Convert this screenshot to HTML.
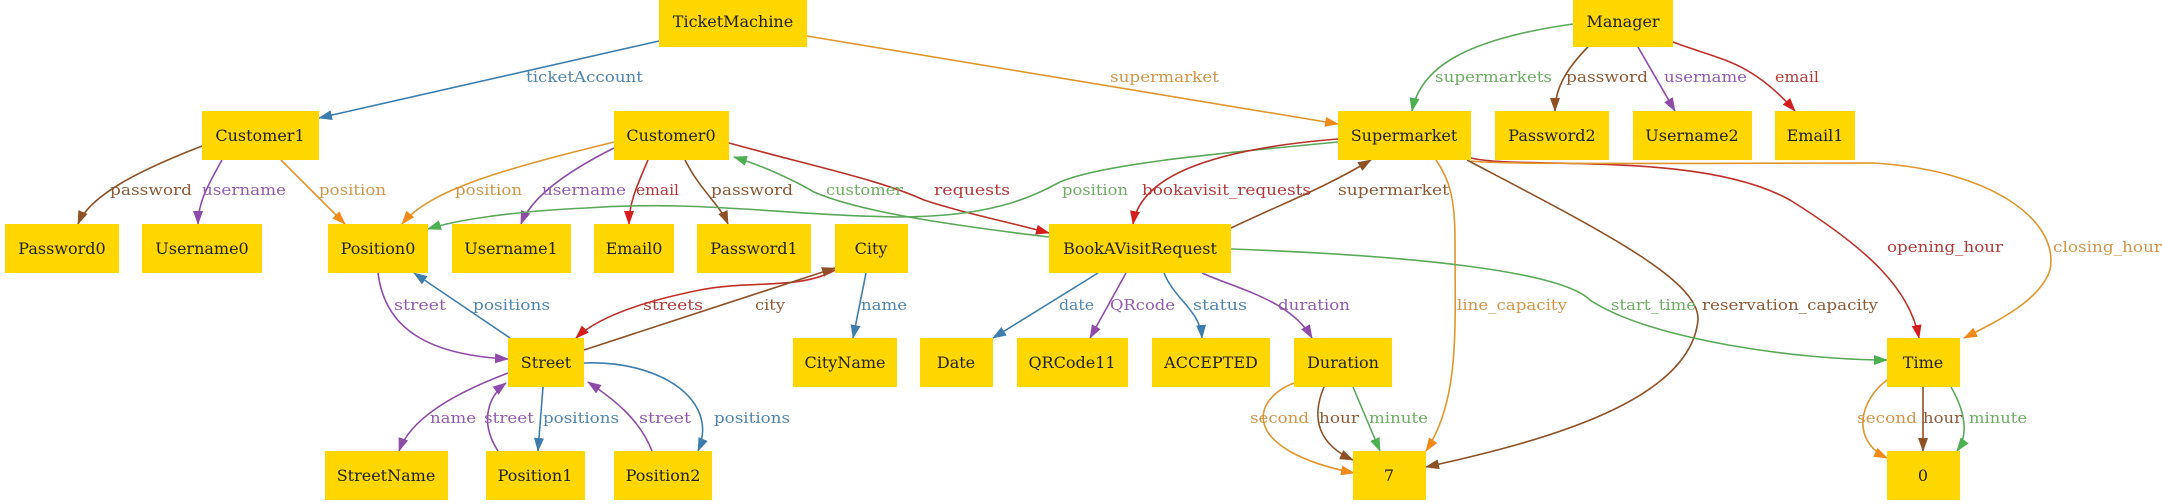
<!DOCTYPE html>
<html><head><meta charset="utf-8"><style>
html,body{margin:0;padding:0;background:#fff;width:2162px;height:504px;overflow:hidden}
svg{display:block}
.n{fill:#FFD700}
.t{font-family:"DejaVu Serif","Liberation Serif",serif;font-size:16px;fill:#222;text-anchor:middle}
.l{font-family:"DejaVu Serif","Liberation Serif",serif;font-size:15px}
path{fill:none;stroke-width:1.6}
</style></head><body>
<svg width="2162" height="504" viewBox="0 0 2162 504" xmlns="http://www.w3.org/2000/svg">
<defs>
<marker id="ab" markerWidth="14" markerHeight="10" refX="13" refY="5" orient="auto" markerUnits="userSpaceOnUse"><path d="M0,0 L14,5 L0,10z" style="fill:#3D7DAD;stroke:none"/></marker>
<marker id="ao" markerWidth="14" markerHeight="10" refX="13" refY="5" orient="auto" markerUnits="userSpaceOnUse"><path d="M0,0 L14,5 L0,10z" style="fill:#F08A1A;stroke:none"/></marker>
<marker id="abr" markerWidth="14" markerHeight="10" refX="13" refY="5" orient="auto" markerUnits="userSpaceOnUse"><path d="M0,0 L14,5 L0,10z" style="fill:#8E5126;stroke:none"/></marker>
<marker id="ap" markerWidth="14" markerHeight="10" refX="13" refY="5" orient="auto" markerUnits="userSpaceOnUse"><path d="M0,0 L14,5 L0,10z" style="fill:#8E4BA8;stroke:none"/></marker>
<marker id="ar" markerWidth="14" markerHeight="10" refX="13" refY="5" orient="auto" markerUnits="userSpaceOnUse"><path d="M0,0 L14,5 L0,10z" style="fill:#D41E1E;stroke:none"/></marker>
<marker id="ag" markerWidth="14" markerHeight="10" refX="13" refY="5" orient="auto" markerUnits="userSpaceOnUse"><path d="M0,0 L14,5 L0,10z" style="fill:#4CAF50;stroke:none"/></marker>
</defs>

<g>
<path d="M659,41 L319,118" stroke="#3D7DAD" marker-end="url(#ab)"/>
<path d="M807,36 L1338,124" stroke="#E0962E" marker-end="url(#ao)"/>
<path d="M202,146 C140,170 90,195 78,224" stroke="#8E5126" marker-end="url(#abr)"/>
<path d="M222,160 C205,190 198,205 198,224" stroke="#8E4BA8" marker-end="url(#ap)"/>
<path d="M281,160 L345,224" stroke="#E0962E" marker-end="url(#ao)"/>
<path d="M614,142 C500,170 430,190 402,224" stroke="#E0962E" marker-end="url(#ao)"/>
<path d="M614,148 C560,175 530,200 521,224" stroke="#8E4BA8" marker-end="url(#ap)"/>
<path d="M648,160 C635,190 629,205 629,224" stroke="#C0302A" marker-end="url(#ar)"/>
<path d="M685,160 C700,190 720,205 728,224" stroke="#8E5126" marker-end="url(#abr)"/>
<path d="M1049,237 C950,225 860,212 814,192 C790,178 760,165 734,157" stroke="#5AA85A" marker-end="url(#ag)"/>
<path d="M729,143 C820,168 880,180 924,200 C960,212 1000,220 1049,233" stroke="#B8302A" marker-end="url(#ar)"/>
<path d="M1338,142 C1200,155 1100,165 1060,182 C1030,198 990,217 897,217 C780,215 700,200 586,208 C500,212 450,222 428,229" stroke="#5AA85A" marker-end="url(#ag)"/>
<path d="M1338,139 C1200,150 1140,180 1133,224" stroke="#B8302A" marker-end="url(#ar)"/>
<path d="M1231,228 C1290,200 1320,190 1371,160" stroke="#8E5126" marker-end="url(#abr)"/>
<path d="M378,273 C385,330 430,355 508,359" stroke="#8E4BA8" marker-end="url(#ap)"/>
<path d="M510,338 L414,273" stroke="#3D7DAD" marker-end="url(#ab)"/>
<path d="M835,270 C800,290 750,280 700,290 C650,300 600,315 576,338" stroke="#C0302A" marker-end="url(#ar)"/>
<path d="M584,350 L835,268" stroke="#8E5126" marker-end="url(#abr)"/>
<path d="M866,273 L853,338" stroke="#3D7DAD" marker-end="url(#ab)"/>
<path d="M1098,273 L993,338" stroke="#3D7DAD" marker-end="url(#ab)"/>
<path d="M1126,273 L1090,338" stroke="#8E4BA8" marker-end="url(#ap)"/>
<path d="M1164,273 C1175,300 1200,310 1202,338" stroke="#3D7DAD" marker-end="url(#ab)"/>
<path d="M1202,273 C1240,290 1290,300 1312,338" stroke="#8E4BA8" marker-end="url(#ap)"/>
<path d="M508,373 C450,395 410,420 399,451" stroke="#8E4BA8" marker-end="url(#ap)"/>
<path d="M498,451 C478,420 490,395 506,383" stroke="#8E4BA8" marker-end="url(#ap)"/>
<path d="M543,387 L538,451" stroke="#3D7DAD" marker-end="url(#ab)"/>
<path d="M652,451 C640,420 615,400 588,382" stroke="#8E4BA8" marker-end="url(#ap)"/>
<path d="M584,363 C660,360 720,400 698,451" stroke="#3D7DAD" marker-end="url(#ab)"/>
<path d="M1573,24 C1460,40 1420,70 1412,111" stroke="#5AA85A" marker-end="url(#ag)"/>
<path d="M1588,47 C1565,70 1555,90 1555,111" stroke="#8E5126" marker-end="url(#abr)"/>
<path d="M1638,47 L1675,111" stroke="#8E4BA8" marker-end="url(#ap)"/>
<path d="M1673,42 C1720,60 1750,60 1795,111" stroke="#C0302A" marker-end="url(#ar)"/>
<path d="M1471,158 C1520,170 1700,150 1790,200 C1870,250 1910,290 1919,338" stroke="#C0302A" marker-end="url(#ar)"/>
<path d="M1471,161 C1500,165 1700,163 1874,163 C1990,170 2060,220 2050,270 C2040,300 2000,320 1964,338" stroke="#E0962E" marker-end="url(#ao)"/>
<path d="M1436,160 C1450,180 1455,200 1455,240 C1455,330 1460,400 1426,451" stroke="#E0962E" marker-end="url(#ao)"/>
<path d="M1467,160 C1600,230 1700,280 1698,320 C1690,400 1550,440 1426,467" stroke="#8E5126" marker-end="url(#abr)"/>
<path d="M1231,249 C1400,255 1560,270 1590,300 C1650,340 1800,360 1887,360" stroke="#5AA85A" marker-end="url(#ag)"/>
<path d="M1294,383 C1250,400 1240,450 1354,473" stroke="#E0962E" marker-end="url(#ao)"/>
<path d="M1324,387 C1310,420 1320,445 1353,460" stroke="#8E5126" marker-end="url(#abr)"/>
<path d="M1353,387 L1380,451" stroke="#5AA85A" marker-end="url(#ag)"/>
<path d="M1887,380 C1860,400 1850,440 1887,458" stroke="#E0962E" marker-end="url(#ao)"/>
<path d="M1923,387 L1923,451" stroke="#8E5126" marker-end="url(#abr)"/>
<path d="M1951,387 C1970,420 1965,440 1957,451" stroke="#5AA85A" marker-end="url(#ag)"/>
</g>

<g class="l">
<text x="526" y="82" fill="#4F86B0" textLength="117" lengthAdjust="spacingAndGlyphs">ticketAccount</text>
<text x="1110" y="82" fill="#D1964A" textLength="109" lengthAdjust="spacingAndGlyphs">supermarket</text>
<text x="110" y="195" fill="#8E5A36" textLength="82" lengthAdjust="spacingAndGlyphs">password</text>
<text x="202" y="195" fill="#935CAE" textLength="84" lengthAdjust="spacingAndGlyphs">username</text>
<text x="319" y="195" fill="#D1964A" textLength="67" lengthAdjust="spacingAndGlyphs">position</text>
<text x="455" y="195" fill="#D1964A" textLength="67" lengthAdjust="spacingAndGlyphs">position</text>
<text x="542" y="195" fill="#935CAE" textLength="84" lengthAdjust="spacingAndGlyphs">username</text>
<text x="636" y="195" fill="#B33A3A" textLength="43" lengthAdjust="spacingAndGlyphs">email</text>
<text x="711" y="195" fill="#8E5A36" textLength="82" lengthAdjust="spacingAndGlyphs">password</text>
<text x="826" y="195" fill="#6DAE63" textLength="77" lengthAdjust="spacingAndGlyphs">customer</text>
<text x="934" y="195" fill="#B33A3A" textLength="76" lengthAdjust="spacingAndGlyphs">requests</text>
<text x="1062" y="195" fill="#6DAE63" textLength="66" lengthAdjust="spacingAndGlyphs">position</text>
<text x="1142" y="195" fill="#B33A3A" textLength="169" lengthAdjust="spacingAndGlyphs">bookavisit_requests</text>
<text x="1338" y="195" fill="#8E5A36" textLength="111" lengthAdjust="spacingAndGlyphs">supermarket</text>
<text x="1435" y="82" fill="#6DAE63" textLength="117" lengthAdjust="spacingAndGlyphs">supermarkets</text>
<text x="1566" y="82" fill="#8E5A36" textLength="82" lengthAdjust="spacingAndGlyphs">password</text>
<text x="1664" y="82" fill="#935CAE" textLength="83" lengthAdjust="spacingAndGlyphs">username</text>
<text x="1775" y="82" fill="#B33A3A" textLength="44" lengthAdjust="spacingAndGlyphs">email</text>
<text x="394" y="310" fill="#935CAE" textLength="52" lengthAdjust="spacingAndGlyphs">street</text>
<text x="473" y="310" fill="#4F86B0" textLength="77" lengthAdjust="spacingAndGlyphs">positions</text>
<text x="643" y="310" fill="#B33A3A" textLength="60" lengthAdjust="spacingAndGlyphs">streets</text>
<text x="755" y="310" fill="#8E5A36" textLength="30" lengthAdjust="spacingAndGlyphs">city</text>
<text x="861" y="310" fill="#4F86B0" textLength="46" lengthAdjust="spacingAndGlyphs">name</text>
<text x="1059" y="310" fill="#4F86B0" textLength="35" lengthAdjust="spacingAndGlyphs">date</text>
<text x="1110" y="310" fill="#935CAE" textLength="65" lengthAdjust="spacingAndGlyphs">QRcode</text>
<text x="1193" y="310" fill="#4F86B0" textLength="54" lengthAdjust="spacingAndGlyphs">status</text>
<text x="1278" y="310" fill="#935CAE" textLength="72" lengthAdjust="spacingAndGlyphs">duration</text>
<text x="1457" y="310" fill="#D1964A" textLength="110" lengthAdjust="spacingAndGlyphs">line_capacity</text>
<text x="1611" y="310" fill="#6DAE63" textLength="85" lengthAdjust="spacingAndGlyphs">start_time</text>
<text x="1702" y="310" fill="#8E5A36" textLength="176" lengthAdjust="spacingAndGlyphs">reservation_capacity</text>
<text x="1887" y="252" fill="#B33A3A" textLength="116" lengthAdjust="spacingAndGlyphs">opening_hour</text>
<text x="2053" y="252" fill="#D1964A" textLength="109" lengthAdjust="spacingAndGlyphs">closing_hour</text>
<text x="430" y="423" fill="#935CAE" textLength="46" lengthAdjust="spacingAndGlyphs">name</text>
<text x="484" y="423" fill="#935CAE" textLength="50" lengthAdjust="spacingAndGlyphs">street</text>
<text x="543" y="423" fill="#4F86B0" textLength="76" lengthAdjust="spacingAndGlyphs">positions</text>
<text x="639" y="423" fill="#935CAE" textLength="52" lengthAdjust="spacingAndGlyphs">street</text>
<text x="714" y="423" fill="#4F86B0" textLength="76" lengthAdjust="spacingAndGlyphs">positions</text>
<text x="1250" y="423" fill="#D1964A" textLength="59" lengthAdjust="spacingAndGlyphs">second</text>
<text x="1319" y="423" fill="#8E5A36" textLength="40" lengthAdjust="spacingAndGlyphs">hour</text>
<text x="1369" y="423" fill="#6DAE63" textLength="59" lengthAdjust="spacingAndGlyphs">minute</text>
<text x="1857" y="423" fill="#D1964A" textLength="60" lengthAdjust="spacingAndGlyphs">second</text>
<text x="1923" y="423" fill="#8E5A36" textLength="39" lengthAdjust="spacingAndGlyphs">hour</text>
<text x="1969" y="423" fill="#6DAE63" textLength="58" lengthAdjust="spacingAndGlyphs">minute</text>
</g>

<g>
<rect class="n" x="659" y="0" width="148" height="47"/><text class="t" x="733" y="27">TicketMachine</text>
<rect class="n" x="1573" y="0" width="100" height="47"/><text class="t" x="1623" y="27">Manager</text>
<rect class="n" x="202" y="111" width="117" height="49"/><text class="t" x="260" y="141">Customer1</text>
<rect class="n" x="614" y="111" width="115" height="49"/><text class="t" x="671" y="141">Customer0</text>
<rect class="n" x="1338" y="111" width="133" height="49"/><text class="t" x="1404" y="141">Supermarket</text>
<rect class="n" x="1495" y="111" width="114" height="49"/><text class="t" x="1552" y="141">Password2</text>
<rect class="n" x="1633" y="111" width="119" height="49"/><text class="t" x="1692" y="141">Username2</text>
<rect class="n" x="1775" y="111" width="80" height="49"/><text class="t" x="1815" y="141">Email1</text>
<rect class="n" x="5" y="224" width="114" height="49"/><text class="t" x="62" y="254">Password0</text>
<rect class="n" x="142" y="224" width="120" height="49"/><text class="t" x="202" y="254">Username0</text>
<rect class="n" x="328" y="224" width="100" height="49"/><text class="t" x="378" y="254">Position0</text>
<rect class="n" x="452" y="224" width="119" height="49"/><text class="t" x="511" y="254">Username1</text>
<rect class="n" x="594" y="224" width="80" height="49"/><text class="t" x="634" y="254">Email0</text>
<rect class="n" x="697" y="224" width="114" height="49"/><text class="t" x="754" y="254">Password1</text>
<rect class="n" x="835" y="224" width="73" height="49"/><text class="t" x="871" y="254">City</text>
<rect class="n" x="1049" y="224" width="182" height="49"/><text class="t" x="1140" y="254">BookAVisitRequest</text>
<rect class="n" x="508" y="338" width="76" height="49"/><text class="t" x="546" y="368">Street</text>
<rect class="n" x="793" y="338" width="104" height="49"/><text class="t" x="845" y="368">CityName</text>
<rect class="n" x="920" y="338" width="73" height="49"/><text class="t" x="956" y="368">Date</text>
<rect class="n" x="1017" y="338" width="111" height="49"/><text class="t" x="1072" y="368">QRCode11</text>
<rect class="n" x="1152" y="338" width="118" height="49"/><text class="t" x="1211" y="368">ACCEPTED</text>
<rect class="n" x="1294" y="338" width="98" height="49"/><text class="t" x="1343" y="368">Duration</text>
<rect class="n" x="1887" y="338" width="73" height="49"/><text class="t" x="1923" y="368">Time</text>
<rect class="n" x="325" y="451" width="123" height="49"/><text class="t" x="386" y="481">StreetName</text>
<rect class="n" x="486" y="451" width="99" height="49"/><text class="t" x="535" y="481">Position1</text>
<rect class="n" x="614" y="451" width="98" height="49"/><text class="t" x="663" y="481">Position2</text>
<rect class="n" x="1353" y="451" width="73" height="49"/><text class="t" x="1389" y="481">7</text>
<rect class="n" x="1887" y="451" width="73" height="49"/><text class="t" x="1923" y="481">0</text>
</g>
</svg>
</body></html>
